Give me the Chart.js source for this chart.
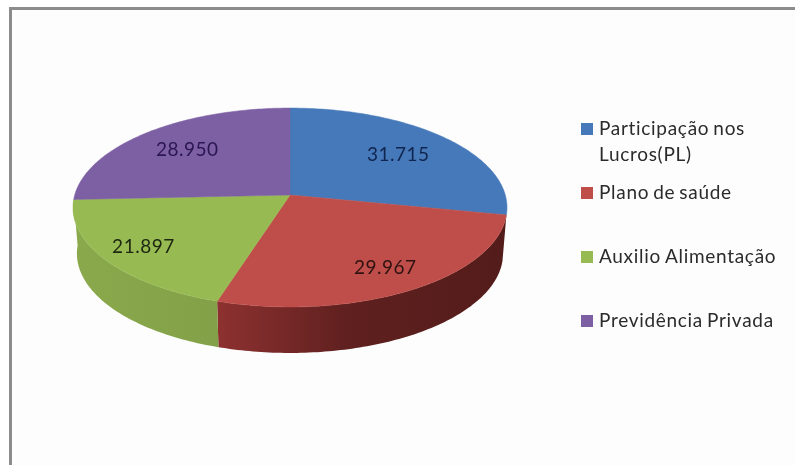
<!DOCTYPE html>
<html><head><meta charset="utf-8">
<style>html,body{margin:0;padding:0;background:#fff}canvas{display:block}</style>
<script src="https://cdn.jsdelivr.net/npm/chart.js@4"></script>
</head><body><canvas id="c" width="795" height="465"></canvas>
<script>
const categories = ["Participação nos Lucros(PL)", "Plano de saúde", "Auxilio Alimentação", "Previdência Privada"];
const legendLines = [["Participação nos", "Lucros(PL)"], ["Plano de saúde"], ["Auxilio Alimentação"], ["Previdência Privada"]];
const values = [31.715, 29.967, 21.897, 28.950];
const valueLabels = ["31.715", "29.967", "21.897", "28.950"];
const faceColors = ["#4679b9", "#bf4e4a", "#97bb52", "#7d5fa4"];
const wallLeft = ["#2f5684", "#8c3130", "#8aa94c", "#5a4378"];
const wallRight = ["#2f5684", "#531c1a", "#74903f", "#5a4378"];
const labelColors = ["#10254f", "#2e1210", "#1c2610", "#2a1650"];
const labelRadius = [0.65, 0.87, 0.86, 0.66];

const SX = 1.104, SY = 0.502, PERSP = 0.1256, DEPTH = 46, LOWER = 0.982;

function project(arc, a, r, drop) {
  const u = Math.cos(a) * r, v = Math.sin(a) * r, w = 1 - PERSP * v;
  const s = drop ? LOWER : 1;
  return [arc.x + arc.outerRadius * SX * s * u / w,
          arc.y + arc.outerRadius * SY * v / w + (drop ? DEPTH : 0)];
}
function rim(ctx, arc, a0, a1, drop, move) {
  const n = Math.max(4, Math.ceil(Math.abs(a1 - a0) * 60));
  for (let i = 0; i <= n; i++) {
    const p = project(arc, a0 + (a1 - a0) * i / n, 1, drop);
    if (i === 0 && move) ctx.moveTo(p[0], p[1]); else ctx.lineTo(p[0], p[1]);
  }
}
const pie3d = {
  id: "pie3d",
  beforeDraw(chart) {
    const ctx = chart.ctx;
    ctx.save();
    ctx.fillStyle = "#fff"; ctx.fillRect(0, 0, 795, 465);
    ctx.fillStyle = "#fdfdfd"; ctx.fillRect(11, 10, 784, 455);
    ctx.fillStyle = "#8c8c8c";
    ctx.fillRect(9, 7, 786, 3);
    ctx.fillRect(9, 7, 3, 458);
    ctx.restore();
  },
  beforeDatasetDraw() { return false; },
  afterDatasetsDraw(chart) {
    const ctx = chart.ctx, arcs = chart.getDatasetMeta(0).data;
    ctx.save();
    arcs.forEach((arc, i) => {
      if (Math.sin((arc.startAngle + arc.endAngle) / 2) <= 0) return;
      const g = ctx.createLinearGradient(arc.x - 215, 0, arc.x + 215, 0);
      g.addColorStop(0, wallLeft[i]); g.addColorStop(1, wallRight[i]);
      if (i === 1) {
        const h = ctx.createLinearGradient(arc.x - 70, 0, arc.x + 215, 0);
        h.addColorStop(0, wallLeft[i]); h.addColorStop(.45, "#5f201f"); h.addColorStop(1, wallRight[i]);
        ctx.fillStyle = h;
      } else ctx.fillStyle = g;
      ctx.beginPath();
      rim(ctx, arc, arc.startAngle, arc.endAngle, false, true);
      rim(ctx, arc, arc.endAngle, arc.startAngle, true, false);
      ctx.closePath(); ctx.fill();
    });
    arcs.forEach((arc, i) => {
      ctx.fillStyle = faceColors[i];
      ctx.strokeStyle = faceColors[i]; ctx.lineWidth = 0.5;
      ctx.beginPath();
      const c = project(arc, 0, 0, false);
      ctx.moveTo(c[0], c[1]);
      rim(ctx, arc, arc.startAngle, arc.endAngle, false, false);
      ctx.closePath(); ctx.fill(); ctx.stroke();
    });
    ctx.font = "19px Lato";
    ctx.letterSpacing = "0.5px";
    ctx.textAlign = "center"; ctx.textBaseline = "middle";
    arcs.forEach((arc, i) => {
      const mid = (arc.startAngle + arc.endAngle) / 2;
      const t = labelRadius[i];
      const x = arc.x + arc.outerRadius * SX * Math.cos(mid) * t;
      const y = arc.y + arc.outerRadius * SY * Math.sin(mid) * t;
      ctx.fillStyle = labelColors[i];
      ctx.fillText(valueLabels[i], x, y);
    });
    ctx.restore();
  },
  afterDraw(chart) {
    const ctx = chart.ctx, left = 581, rowStart = 129, rowStep = 64;
    ctx.save();
    ctx.font = "19px Lato"; ctx.letterSpacing = "0.7px"; ctx.wordSpacing = "-1.5px";
    ctx.textBaseline = "middle"; ctx.textAlign = "left";
    categories.forEach((name, i) => {
      const y = rowStart + i * rowStep;
      ctx.fillStyle = faceColors[i];
      ctx.fillRect(left, y - 6, 12, 12);
      ctx.fillStyle = "#2b2b2b";
      legendLines[i].forEach((line, k) => ctx.fillText(line, left + 18, y + k * 26));
    });
    ctx.restore();
  }
};
new Chart(document.getElementById("c"), {
  type: "pie",
  data: { labels: categories, datasets: [{ data: values, backgroundColor: faceColors, borderWidth: 0 }] },
  options: {
    responsive: false, animation: false,
    layout: { padding: { left: 0, right: 215, top: 0, bottom: 75 } },
    plugins: { legend: { display: false }, tooltip: { enabled: false } }
  },
  plugins: [pie3d]
});
</script></body></html>
